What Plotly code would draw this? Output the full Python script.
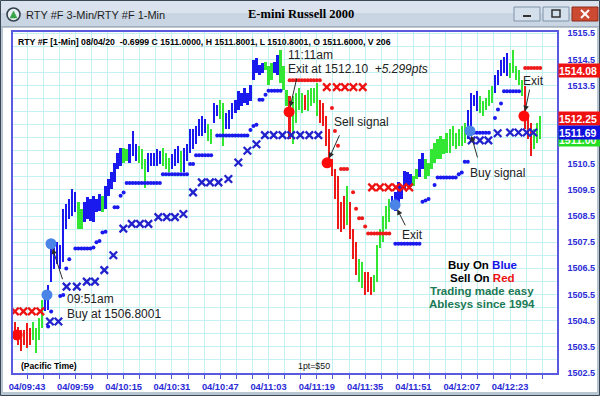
import plotly.graph_objects as go

# ---------------- data ----------------
# 1-minute bars; minutes are counted from 09:43
bar_first_minute = -4
bar_high = [
    1504.46, 1504.27, 1504.15, 1504.15, 1504.40, 1504.21, 1504.46, 1504.21, 1504.59, 1505.29,
    1505.38, 1505.86, 1507.64, 1507.51, 1507.51, 1507.38, 1508.78, 1508.97, 1509.16, 1509.54,
    1509.41, 1509.03, 1508.78, 1509.03, 1509.22, 1509.16, 1509.28, 1509.16, 1509.35, 1509.28,
    1509.66, 1509.92, 1510.17, 1510.55, 1510.93, 1511.12, 1511.12, 1511.06, 1511.25, 1511.76,
    1511.25, 1511.19, 1511.06, 1510.68, 1510.93, 1510.93, 1510.93, 1511.06, 1510.99, 1511.12,
    1510.93, 1510.74, 1510.87, 1511.06, 1511.19, 1510.99, 1511.12, 1511.25, 1511.82, 1511.82,
    1511.95, 1512.20, 1512.33, 1512.20, 1512.01, 1511.82, 1512.84, 1512.77, 1512.96, 1512.84,
    1512.46, 1512.58, 1512.84, 1512.96, 1513.28, 1513.22, 1513.41, 1513.22, 1513.53, 1514.48,
    1514.55, 1514.29, 1514.36, 1514.42, 1514.23, 1514.36, 1514.42, 1514.67, 1514.87, 1514.23,
    1513.34, 1513.09, 1513.09, 1513.22, 1513.41, 1513.22, 1513.15, 1513.34, 1513.41, 1513.41,
    1513.60, 1512.96, 1512.84, 1512.33, 1511.82, 1510.68, 1510.30, 1510.04, 1509.03, 1509.28,
    1509.67, 1509.03, 1508.02, 1507.51, 1506.87, 1506.75, 1506.37, 1506.37, 1506.18, 1506.24,
    1507.38, 1508.02, 1508.52, 1508.90, 1509.16, 1509.28, 1509.41, 1509.79, 1509.66, 1510.23,
    1510.17, 1510.11, 1510.04, 1510.30, 1510.68, 1510.93, 1510.68, 1510.55, 1511.06, 1511.31,
    1511.44, 1511.57, 1511.44, 1511.69, 1511.82, 1511.95, 1511.69, 1511.82, 1511.95, 1512.07,
    1512.58, 1513.22, 1513.15, 1513.28, 1513.09, 1512.90, 1513.02, 1513.34, 1513.47, 1513.91,
    1514.10, 1514.48, 1514.61, 1514.74, 1514.36, 1514.87, 1514.23, 1514.10, 1513.72, 1513.47,
    1512.33, 1512.07, 1511.82, 1512.07, 1512.33,
]
bar_low = [
    1503.77, 1503.58, 1503.32, 1503.58, 1503.45, 1503.58, 1503.77, 1503.26, 1503.77, 1504.21,
    1504.85, 1504.91, 1505.99, 1506.49, 1506.68, 1506.49, 1506.75, 1508.02, 1508.40, 1508.52,
    1508.65, 1508.02, 1508.02, 1508.27, 1508.40, 1508.33, 1508.27, 1508.65, 1508.71, 1508.65,
    1508.78, 1509.28, 1509.54, 1509.79, 1510.30, 1510.43, 1510.55, 1510.62, 1510.55, 1510.81,
    1510.62, 1510.55, 1510.30, 1509.56, 1510.17, 1510.43, 1510.43, 1510.43, 1510.49, 1510.43,
    1510.30, 1510.17, 1510.30, 1510.43, 1510.55, 1510.17, 1510.17, 1510.62, 1510.93, 1511.06,
    1511.25, 1511.57, 1511.57, 1511.69, 1511.38, 1511.25, 1512.07, 1512.33, 1512.20, 1511.19,
    1511.82, 1511.82, 1512.20, 1512.46, 1512.58, 1512.71, 1512.84, 1512.77, 1512.90, 1513.72,
    1513.98, 1513.91, 1513.98, 1514.10, 1513.53, 1513.72, 1513.98, 1513.91, 1513.60, 1513.34,
    1512.71, 1511.44, 1511.25, 1512.07, 1512.58, 1512.46, 1512.58, 1512.52, 1512.71, 1512.84,
    1512.33, 1512.07, 1511.95, 1511.19, 1510.55, 1510.04, 1509.16, 1508.02, 1507.89, 1508.02,
    1508.14, 1507.64, 1506.87, 1506.24, 1505.99, 1505.73, 1505.48, 1505.61, 1505.48, 1505.61,
    1505.99, 1507.26, 1507.51, 1508.02, 1508.27, 1508.78, 1508.71, 1508.84, 1509.16, 1509.54,
    1509.66, 1509.60, 1509.66, 1509.92, 1509.98, 1510.30, 1509.92, 1510.04, 1510.30, 1510.55,
    1510.68, 1510.68, 1510.87, 1510.93, 1510.93, 1511.19, 1511.06, 1511.19, 1511.19, 1511.31,
    1511.44, 1511.69, 1512.71, 1512.52, 1512.46, 1512.33, 1512.58, 1512.71, 1512.84, 1513.22,
    1513.53, 1513.85, 1513.98, 1513.85, 1513.79, 1513.98, 1513.72, 1513.53, 1513.09, 1511.82,
    1511.44, 1510.81, 1511.06, 1511.31, 1511.44,
]
# B = buy (blue), G = neutral/green, R = sell (red)
bar_state = (
    "RRRRRR" "GGGG" "BBBBBBBBBBB" "GG" "BBBBBB" "G" "BBBBBB" "GG" "BBB" "GGG"
    "BBBBB" "GGG" "BBB" "G" "BBBBBBBB" "GG" "BB" "GG" "BBBBBBBBBBBBB" "GGG"
    "BB" "GGG" "R" "GGGG" "R" "GGGG" "RRRRRRRRR" "G" "RRR" "GG" "RRR" "GGGGGG"
    "BBBBBBB" "GG" "BB" "GGGGGGGGGGGGGG" "BBBB" "GGGGG" "BBBBB" "GGGGG" "RRR" "GGG"
)

# 1-min trailing stop dots
blue_dot_min = [7, 8, 11, 12, 13, 14, 16, 17, 18, 19, 20, 21, 22, 23, 24, 25, 26, 29, 30, 31, 32,
                33, 34, 35, 36, 37, 38, 39, 40, 41, 42, 43, 44, 45, 46, 47, 48, 49, 50, 51, 52, 53,
                54, 55, 56, 57, 58, 59, 60, 61, 63, 64, 65, 66, 67, 68, 69, 70, 71, 72, 73, 74, 75,
                76, 77, 78, 79, 80, 81, 82, 83, 84,
                122, 123, 124, 125, 126, 127, 128, 129, 130, 131, 132, 133, 135, 136, 137, 138, 139,
                140, 141, 142, 143, 144, 145, 146, 148, 149, 150, 151, 152, 153, 155, 156, 157, 158,
                159, 160, 161, 162, 163]
blue_dot_price = [1504.27, 1504.85, 1505.44, 1505.48, 1506.49, 1506.85, 1507.26, 1507.26, 1507.26,
                  1507.26, 1507.26, 1507.26, 1507.30, 1507.50, 1507.55, 1507.87, 1507.90, 1508.84,
                  1508.84, 1509.28, 1509.40,
                  1509.77, 1509.77, 1509.77, 1509.77, 1509.77, 1509.77, 1509.77, 1509.77, 1509.77,
                  1509.77, 1509.77, 1509.77, 1510.10, 1510.10, 1510.10, 1510.10, 1510.10, 1510.10,
                  1510.10, 1510.10, 1510.10, 1510.49, 1510.49, 1510.83, 1510.83, 1510.83, 1510.83,
                  1510.83, 1510.83, 1511.59, 1511.59, 1511.59, 1511.59, 1511.59, 1511.59, 1511.59,
                  1511.59, 1511.59, 1511.59, 1511.59, 1511.80, 1511.95, 1512.00, 1512.96, 1512.96,
                  1513.15, 1513.30, 1513.30, 1513.30, 1513.30, 1513.30,
                  1507.44, 1507.44, 1507.44, 1507.44, 1507.44, 1507.44, 1507.44, 1507.44, 1507.44,
                  1509.05, 1509.10, 1509.15, 1509.69, 1509.98, 1509.98, 1509.98, 1509.98, 1509.98,
                  1509.98, 1509.98, 1510.10, 1510.17, 1510.58, 1510.58, 1511.69, 1511.69, 1511.69,
                  1511.69, 1511.69, 1511.69, 1512.26, 1512.58, 1512.81, 1513.28, 1513.28, 1513.28,
                  1513.28, 1513.28, 1513.28]
red_dot_min = [87, 88, 89, 90, 91, 92, 93, 94, 95, 96, 97, 101, 102, 103, 104, 105, 106, 108, 109,
               110, 111, 112, 113, 114, 115, 116, 117, 118, 119, 120,
               165, 166, 167, 168, 169, 170]
red_dot_price = [1513.70, 1513.70, 1513.70, 1513.70, 1513.70, 1513.70, 1513.70, 1513.70, 1513.70,
                 1513.70, 1513.70, 1512.64, 1511.76, 1511.19, 1510.30, 1510.30, 1510.30, 1509.41,
                 1508.78, 1508.42, 1508.42, 1508.10, 1507.83, 1507.83, 1507.83, 1507.83, 1507.83,
                 1507.83, 1507.83, 1507.83,
                 1514.17, 1514.17, 1514.17, 1514.17, 1514.17, 1514.17]

# 3-minute stops (X marks)
blue_x_min = [7.6, 10.4, 13.1, 16.5, 19.8, 22.5, 25.6, 28.6, 31.9, 34.7, 37.4, 40.2, 43.5, 46.3,
              49.0, 51.8, 55.0, 57.9, 60.6, 63.4, 66.7, 70.0, 73.0, 76.0, 78.8, 81.7, 84.6, 87.5,
              90.5, 93.5, 96.5, 147.3, 150.0, 152.8, 155.9, 160.0, 162.8, 165.5, 167.7]
blue_x_price = [1504.46, 1504.46, 1505.80, 1505.80, 1505.99, 1505.99, 1506.43, 1507.00, 1508.02,
                1508.20, 1508.20, 1508.20, 1508.46, 1508.46, 1508.46, 1508.58, 1509.41, 1509.79,
                1509.79, 1509.79, 1509.92, 1510.55, 1511.00, 1511.25, 1511.60, 1511.60, 1511.60,
                1511.60, 1511.60, 1511.60, 1511.60, 1511.40, 1511.40, 1511.40, 1511.67, 1511.70,
                1511.70, 1511.70, 1511.70]
red_x_min = [-4.0, -1.2, 1.6, 4.4, 99.3, 102.6, 105.3, 108.1, 111.2,
             114.3, 116.9, 119.7, 122.2, 124.6, 126.6]
red_x_price = [1504.85, 1504.85, 1504.85, 1504.85, 1513.44, 1513.44, 1513.44, 1513.44, 1513.44,
               1509.60, 1509.60, 1509.60, 1509.60, 1509.60, 1509.60]

# signal dots
signal_min = [-3.3, 6.6, 7.95, 86.8, 99.4, 121.9, 146.7, 164.6]
signal_price = [1503.95, 1505.48, 1507.44, 1512.49, 1510.54, 1508.93, 1511.76, 1512.33]
signal_kind = ["sell", "buy", "buy", "sell", "sell", "buy", "buy", "sell"]

tick_minutes = [0, 16, 32, 48, 64, 80, 96, 112, 128, 144, 160]
tick_labels = ["04/09:43", "04/09:59", "04/10:15", "04/10:31", "04/10:47", "04/11:03",
               "04/11:19", "04/11:35", "04/11:51", "04/12:07", "04/12:23"]
price_ticks = [1502.5, 1503.5, 1504.5, 1505.5, 1506.5, 1507.5, 1508.5, 1509.5,
               1510.5, 1511.5, 1512.5, 1513.5, 1514.5, 1515.5]
# labels that the price flags completely cover in the picture are left blank
price_tick_labels = ["1502.5", "1503.5", "1504.5", "1505.5", "1506.5", "1507.5", "1508.5",
                     "1509.5", "1510.5", "", "", "1513.5", "1514.5", "1515.5"]

# price flags on the right axis
flag_price = [1514.08, 1512.25, 1511.42, 1511.69]
flag_text = ["1514.08", "1512.25", "1511.00", "1511.69"]
flag_color = ["#ee1111", "#ee1111", "#22dd22", "#1010dd"]

# ---------------- styling ----------------
BLUE = "#1a1aee"
GREEN = "#33e633"
RED = "#ee1a1a"
GRID = "#c6f1f3"
AXBLUE = "#2b2bd6"
FRAME = "#5a5ae0"
SANS = "Liberation Sans, Arial, sans-serif"
state_color = {"B": BLUE, "G": GREEN, "R": RED}

bar_minutes = [bar_first_minute + i for i in range(len(bar_high))]
assert len(bar_low) == len(bar_high) == len(bar_state)

fig = go.Figure()
fig.add_trace(go.Bar(
    x=bar_minutes, base=bar_low, y=[h - l for h, l in zip(bar_high, bar_low)],
    width=0.78, marker=dict(color=[state_color[s] for s in bar_state], line=dict(width=0)),
    hoverinfo="skip"))
fig.add_trace(go.Scatter(x=blue_dot_min, y=blue_dot_price, mode="markers",
                         marker=dict(size=4, color=BLUE), hoverinfo="skip"))
fig.add_trace(go.Scatter(x=red_dot_min, y=red_dot_price, mode="markers",
                         marker=dict(size=4, color=RED), hoverinfo="skip"))
fig.add_trace(go.Scatter(x=blue_x_min, y=blue_x_price, mode="markers",
                         marker=dict(symbol="x-thin", size=7.5, line=dict(width=2.3, color="#2222cc")),
                         hoverinfo="skip"))
fig.add_trace(go.Scatter(x=red_x_min, y=red_x_price, mode="markers",
                         marker=dict(symbol="x-thin", size=7.5, line=dict(width=2.3, color="#ee1111")),
                         hoverinfo="skip"))
fig.add_trace(go.Scatter(
    x=signal_min, y=signal_price, mode="markers",
    marker=dict(size=11, color=["#4a84e6" if k == "buy" else "#ff0a0a" for k in signal_kind]),
    hoverinfo="skip"))

# ---------------- layout helpers ----------------
L, R, T, B = 13, 557, 32, 373


def PX(px):
    return (px - L) / (R - L)


def PY(py):
    return (B - py) / (B - T)


shapes = []


def rect(x0, y0, x1, y1, fill, line=None, lw=0):
    shapes.append(dict(type="rect", xref="paper", yref="paper", x0=PX(x0), x1=PX(x1),
                       y0=PY(y1), y1=PY(y0), fillcolor=fill,
                       line=dict(color=line or fill, width=lw), layer="above"))


def seg(x0, y0, x1, y1, color, w):
    shapes.append(dict(type="line", xref="paper", yref="paper", x0=PX(x0), x1=PX(x1),
                       y0=PY(y0), y1=PY(y1), line=dict(color=color, width=w), layer="above"))


# window chrome
rect(0, 0, 600, 13, "#dae3ed")
rect(0, 13, 600, 27, "#c9d5e2")
seg(0, 27, 600, 27, "#7d8c9b", 1)
rect(0, 27, 3, 396, "#b8c6d4")
rect(597, 27, 600, 396, "#b8c6d4")
rect(0, 392, 600, 396, "#b8c6d4")
rect(0.5, 0.5, 599.5, 395.5, "rgba(0,0,0,0)", "#3a4856", 1)
# window buttons
rect(514, 7, 540, 21, "#d3dfeb", "#7f93a8", 1)
seg(523, 16, 531, 16, "#333333", 2)
rect(543, 7, 569, 21, "#d3dfeb", "#7f93a8", 1)
rect(552, 10, 560, 17, "rgba(0,0,0,0)", "#333333", 1.5)
rect(572, 7, 598, 21, "#cc4a32", "#8a2a1a", 1)
seg(581, 10, 589, 18, "white", 2)
seg(581, 18, 589, 10, "white", 2)
# app icon
shapes.append(dict(type="circle", xref="paper", yref="paper", x0=PX(7), x1=PX(20),
                   y0=PY(21), y1=PY(8), fillcolor="#e9eef3",
                   line=dict(color="#34414e", width=1.6), layer="above"))
shapes.append(dict(type="path", xref="paper", yref="paper",
                   path=f"M {PX(10)} {PY(18)} L {PX(13.5)} {PY(11)} L {PX(17)} {PY(18)} Z",
                   fillcolor="#37a447", line=dict(color="#37a447", width=0.5), layer="above"))

ann = []


def text(px, py, s, size, color="#222222", anchor="left", family=SANS, bold=False):
    ann.append(dict(x=PX(px), y=PY(py), xref="paper", yref="paper", text=s, showarrow=False,
                    xanchor=anchor, yanchor="middle",
                    font=dict(family=family, size=size, color=color,
                              weight="bold" if bold else "normal")))


text(24, 14.5, "RTY #F 3-Min/RTY #F 1-Min", 11, "#1e1e1e")
text(301, 14, "E-mini Russell 2000", 12.5, "#000000", "center",
     "Liberation Serif, Times New Roman, serif", True)
text(16, 42.5, "RTY #F [1-Min] 08/04/20 \u00a0-0.6999 C 1511.0000, H 1511.8001, L 1510.8001, "
     "O 1511.6000, V 206", 8.7, "#000000", bold=True)
text(19, 366, "(Pacific Time)", 8.6, "#000000", bold=True)
text(296, 366, "1pt=$50", 8.8, "#111111")

text(65, 299, "09:51am", 12)
text(65, 314, "Buy at 1506.8001", 12)
text(286, 55, "11:11am", 12)
text(286, 69, "Exit at 1512.10 \u00a0<i>+5.299pts</i>", 12)
text(332, 122, "Sell signal", 12)
text(400, 235, "Exit", 12)
text(468, 173, "Buy signal", 12)
text(521, 81, "Exit", 12)

text(482, 265, "Buy On <span style='color:#1414e6'>Blue</span>", 11.5, "#000000", "center", bold=True)
text(482, 278, "Sell On <span style='color:#ee1111'>Red</span>", 11.5, "#000000", "center", bold=True)
text(482, 291, "Trading made easy", 11.5, "#1b7a55", "center", bold=True)
text(482, 304, "Ablesys since 1994", 11.5, "#1b7a55", "center", bold=True)

# arrows: index into the signal arrays, tail offset in px
arrow_specs = [(2, 12, 37), (3, 8, -35), (4, 13, -29), (5, 11, 22), (6, 8, 28), (7, 6, -28)]
for idx, dx, dy in arrow_specs:
    ann.append(dict(x=signal_min[idx], y=signal_price[idx], xref="x", yref="y", text="",
                    showarrow=True, ax=dx, ay=dy, arrowhead=2, arrowsize=1.1, arrowwidth=1,
                    arrowcolor="#2a2a2a", standoff=5))

# right side price flags
for p, t, c in zip(flag_price, flag_text, flag_color):
    ann.append(dict(x=1, xref="paper", xanchor="left", xshift=1, y=p, yref="y",
                    yanchor="middle", text=t, showarrow=False, bgcolor=c, width=42,
                    height=13, align="left", borderpad=0,
                    font=dict(family=SANS, size=10.5, color="white", weight="bold")))

fig.update_layout(
    width=600, height=396, margin=dict(l=L, r=600 - R, t=T, b=396 - B, autoexpand=False),
    paper_bgcolor="white", plot_bgcolor="white", showlegend=False, bargap=0,
    shapes=shapes, annotations=ann,
    xaxis=dict(range=[-4.64, 175.55], tickmode="array", tickvals=tick_minutes,
               ticktext=tick_labels, tickfont=dict(family=SANS, size=9.3, color=AXBLUE,
                                                   weight="bold"),
               ticks="outside", ticklen=4, tickwidth=1, tickcolor=FRAME, ticklabelstandoff=0,
               automargin=False,
               showgrid=True, gridcolor=GRID, gridwidth=1, zeroline=False,
               showline=True, mirror=True, linecolor=FRAME, linewidth=1.5,
               minor=dict(tickmode="linear", tick0=0, dtick=16 / 3, ticks="outside",
                          ticklen=4, tickcolor=FRAME, showgrid=True, gridcolor=GRID)),
    yaxis=dict(range=[1502.49, 1515.55], side="right", tickmode="array",
               tickvals=price_ticks, ticktext=price_tick_labels,
               tickfont=dict(family=SANS, size=9, color=AXBLUE, weight="bold"),
               ticks="", ticklabelstandoff=7, automargin=False,
               showgrid=True, gridcolor=GRID, zeroline=False,
               showline=True, mirror=True, linecolor=FRAME, linewidth=1.5,
               minor=dict(tickmode="linear", tick0=1502.5, dtick=0.5, showgrid=True,
                          gridcolor=GRID)),
)

fig.write_html("out.html")
